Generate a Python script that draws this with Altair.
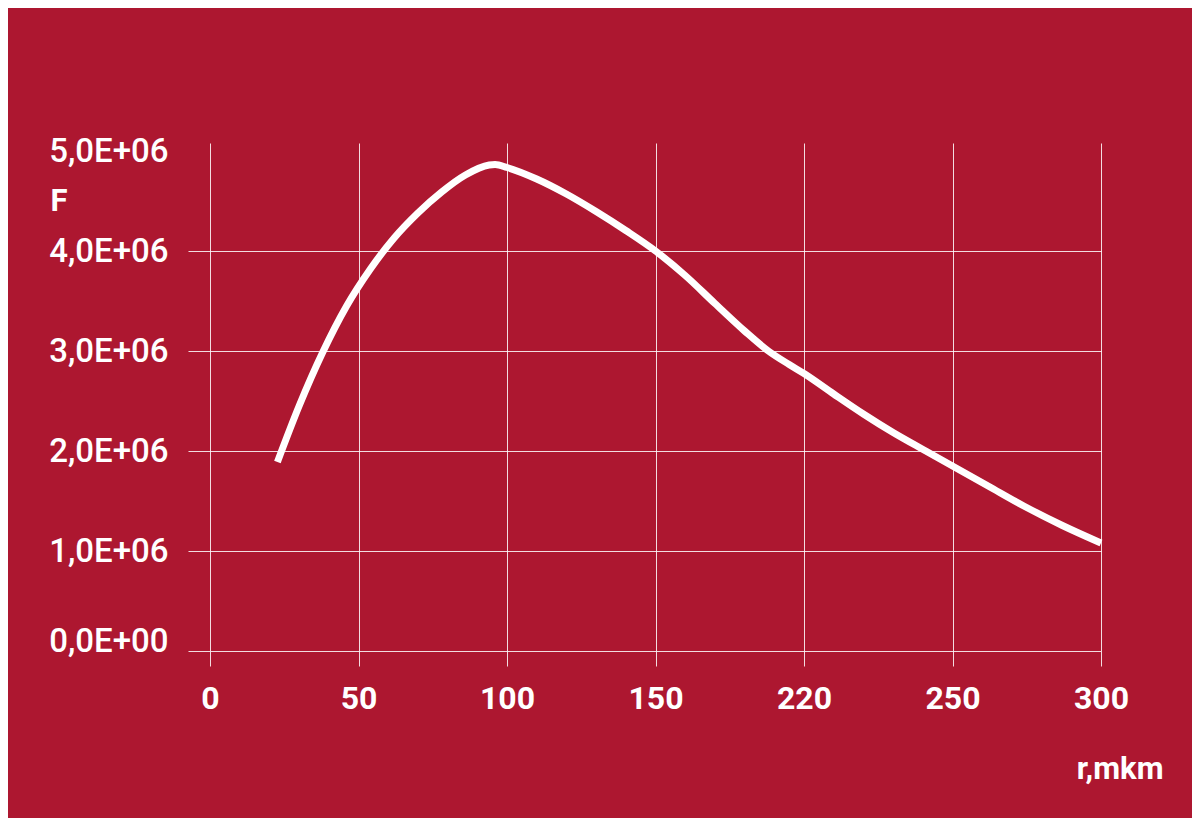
import altair as alt
import pandas as pd

# Curve values (r on the evenly spaced axis positions)
r_values = [22.7, 30, 38, 46, 54, 62, 70, 78, 86, 94, 96, 100, 110, 120, 130, 140, 150, 160, 170,
            180, 188, 195, 200, 210, 220, 230, 241, 250, 262, 274, 287, 300]
f_values = [1.89e6, 2.45e6, 2.99e6, 3.45e6, 3.82e6, 4.13e6, 4.38e6, 4.59e6, 4.76e6, 4.86e6,
            4.865e6, 4.835e6, 4.72e6, 4.57e6, 4.395e6, 4.205e6, 4.00e6, 3.755e6, 3.475e6,
            3.20e6, 3.00e6, 2.865e6, 2.775e6, 2.57e6, 2.37e6, 2.185e6, 2.00e6, 1.85e6,
            1.65e6, 1.45e6, 1.255e6, 1.08e6]

x_tick_values = [0, 50, 100, 150, 200, 250, 300]
x_tick_labels = ["0", "50", "100", "150", "220", "250", "300"]
y_tick_values = [0, 1e6, 2e6, 3e6, 4e6, 5e6]
y_tick_labels = ["0,0E+00", "1,0E+06", "2,0E+06", "3,0E+06", "4,0E+06", "5,0E+06"]

x_title = "r,mkm"
y_title = "F"

BG = "#AD1730"
FONT = "Roboto"

df = pd.DataFrame({"r": r_values, "F": f_values})

x_label_expr = "[" + ",".join(f"'{s}'" for s in x_tick_labels) + "][round(datum.value/50)]"
y_label_expr = "[" + ",".join(f"'{s}'" for s in y_tick_labels) + "][round(datum.value/1000000)]"

x_axis = alt.Axis(
    values=x_tick_values,
    labelExpr=x_label_expr,
    grid=True,
    gridColor="white",
    gridOpacity=0.85,
    gridWidth=1,
    domain=False,
    ticks=True,
    tickSize=15,
    tickColor="white",
    tickOpacity=0.85,
    tickWidth=1,
    labelFlush=False,
    labelOverlap=False,
    labelPadding=17,
    labelFont=FONT,
    labelFontSize=32,
    labelFontWeight="bold",
    labelColor="white",
    title=x_title,
    titleFont=FONT,
    titleFontSize=31,
    titleFontWeight="bold",
    titleColor="white",
    titleX=953,
    titleY=127,
    titleAlign="right",
    titleBaseline="alphabetic",
)

y_axis = alt.Axis(
    values=y_tick_values,
    labelExpr=y_label_expr,
    grid=True,
    gridColor="white",
    gridOpacity={"condition": {"test": "datum.value >= 5000000", "value": 0}, "value": 0.85},
    gridWidth=1,
    domain=False,
    ticks=True,
    tickSize=22,
    tickColor="white",
    tickOpacity={"condition": {"test": "datum.value >= 5000000", "value": 0}, "value": 0.85},
    tickWidth=1,
    labelFlush=False,
    labelOverlap=False,
    labelPadding=20,
    labelBaseline={"condition": {"test": "datum.value == 0", "value": "alphabetic"}, "value": "middle"},
    labelFont=FONT,
    labelFontSize=33,
    labelFontWeight=500,
    labelColor="white",
    title=y_title,
    titleFont=FONT,
    titleFontSize=31,
    titleFontWeight="bold",
    titleColor="white",
    titleAngle=0,
    titleX=-160,
    titleY=67,
    titleAlign="left",
    titleBaseline="alphabetic",
)

chart = (
    alt.Chart(df)
    .mark_line(color="white", strokeWidth=7, interpolate="monotone", strokeCap="butt")
    .encode(
        x=alt.X("r:Q", scale=alt.Scale(domain=[0, 300], nice=False, zero=False), axis=x_axis),
        y=alt.Y("F:Q", scale=alt.Scale(domain=[0, 5080000], nice=False), axis=y_axis),
    )
    .properties(
        width=891,
        height=508,
        background=BG,
        autosize=alt.AutoSizeParams(type="none"),
        padding={"left": 202, "top": 135, "right": 91, "bottom": 167},
    )
    .configure_view(stroke=None)
)

chart.save("out.html", embed_options={"renderer": "svg", "actions": False})
